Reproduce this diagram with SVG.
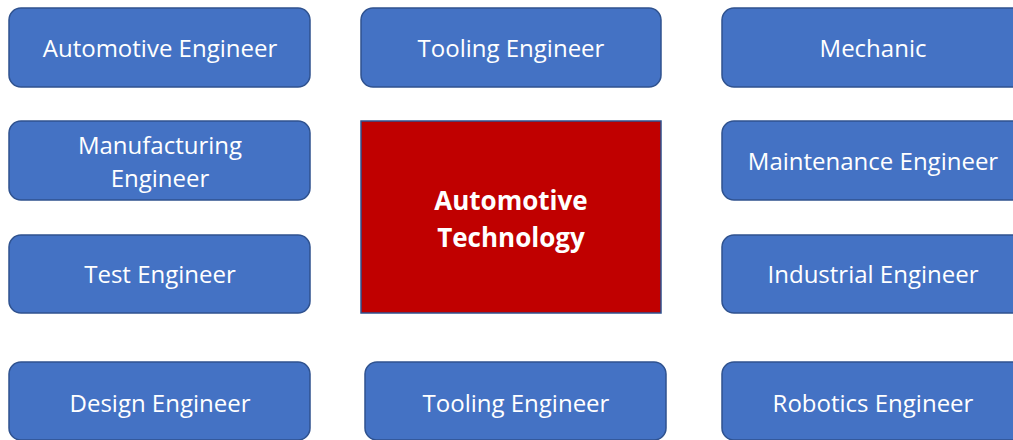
<svg xmlns="http://www.w3.org/2000/svg" width="1013" height="440" viewBox="0 0 1013 440">
<style>
.box{fill:#4472C4;stroke:#2F528F;stroke-width:1.5}
.core{fill:#C00000;stroke:#2F528F;stroke-width:1.5}
.t{font-family:"Open Sans","Noto Sans",sans-serif;font-size:24px;fill:#FFFFFF;text-anchor:middle}
.b{font-family:"Open Sans","Noto Sans",sans-serif;font-size:26px;font-weight:bold;fill:#FFFFFF;text-anchor:middle}
</style>
<rect width="1013" height="440" fill="#FFFFFF"/>
<g id="connectors"></g>
<g id="n-automotive-engineer"><rect class="box" x="9" y="8" width="301" height="79" rx="12"/><text class="t" x="160" y="57">Automotive Engineer</text></g>
<g id="n-tooling-engineer-top"><rect class="box" x="361" y="8" width="300" height="79" rx="12"/><text class="t" x="511" y="57">Tooling Engineer</text></g>
<g id="n-mechanic"><rect class="box" x="722" y="8" width="310" height="79" rx="12"/><text class="t" x="873" y="57">Mechanic</text></g>
<g id="n-manufacturing-engineer"><rect class="box" x="9" y="121" width="301" height="79" rx="12"/><text class="t" x="160" y="154">Manufacturing</text><text class="t" x="160" y="187">Engineer</text></g>
<g id="n-automotive-technology"><rect class="core" x="361" y="121" width="300" height="192"/><text class="b" x="511" y="210">Automotive</text><text class="b" x="511" y="247">Technology</text></g>
<g id="n-maintenance-engineer"><rect class="box" x="722" y="121" width="310" height="79" rx="12"/><text class="t" x="873" y="170">Maintenance Engineer</text></g>
<g id="n-test-engineer"><rect class="box" x="9" y="235" width="301" height="78" rx="12"/><text class="t" x="160" y="283">Test Engineer</text></g>
<g id="n-industrial-engineer"><rect class="box" x="722" y="235" width="310" height="78" rx="12"/><text class="t" x="873" y="283">Industrial Engineer</text></g>
<g id="n-design-engineer"><rect class="box" x="9" y="362" width="301" height="78" rx="12"/><text class="t" x="160" y="412">Design Engineer</text></g>
<g id="n-tooling-engineer-bottom"><rect class="box" x="365" y="362" width="301" height="78" rx="12"/><text class="t" x="516" y="412">Tooling Engineer</text></g>
<g id="n-robotics-engineer"><rect class="box" x="722" y="362" width="310" height="78" rx="12"/><text class="t" x="873" y="412">Robotics Engineer</text></g>
</svg>
